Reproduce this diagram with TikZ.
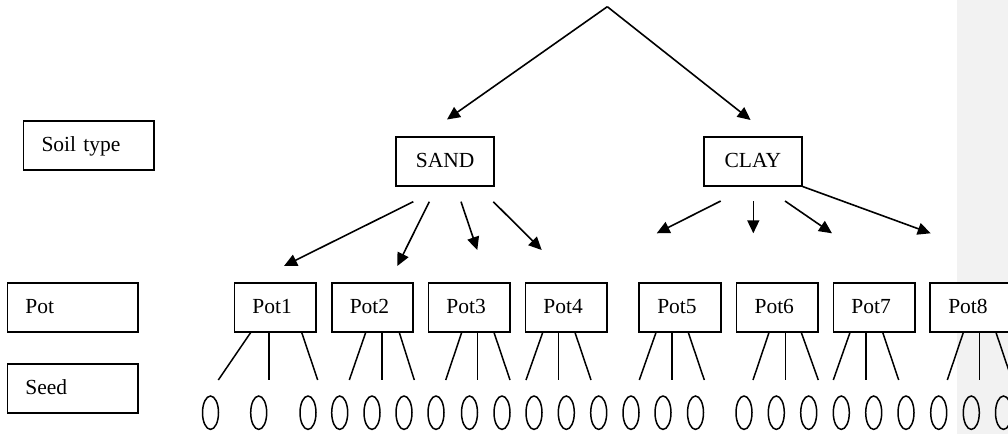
\documentclass[tikz,border=0pt]{standalone}
\usepackage{fontspec}
\setmainfont{Liberation Serif}
\usetikzlibrary{arrows.meta}
\definecolor{bgside}{HTML}{F2F2F2}
\begin{document}
\begin{tikzpicture}[x=1pt,y=-1pt,
  box/.style={draw, line width=1.6pt, fill=white, inner ysep=0pt,
    minimum height=49pt, font=\fontsize{21.5}{25}\selectfont,
    text height=14pt, text depth=2pt},
  lbox/.style={box, inner xsep=18pt, align=left, text width=#1},
  cbox/.style={box, inner xsep=0pt, minimum width=#1},
  arr/.style={line width=1.6pt, -{Triangle[length=13pt,width=12pt]}},
  ln/.style={line width=1.5pt},
  seed/.style={line width=1.5pt}]
\useasboundingbox (0,0) rectangle (1008,434);
\clip (0,0) rectangle (1008,434);
\fill[bgside] (957,0) rectangle (1008,434);

% legend boxes
\node[lbox=94.4pt] (soil) at (88.7,145.3) {Soil type};
\node[lbox=94.4pt] (potlab) at (72.5,307.2) {Pot};
\node[lbox=94.4pt] (seedlab) at (72.5,388.3) {Seed};

% soil nodes
\node[cbox=98pt] (sand) at (445.2,161.2) {SAND};
\node[cbox=98pt] (clay) at (752.8,161.2) {CLAY};

% pots
\foreach \n/\x in {1/275.2,2/372.5,3/469.2,4/566.2,5/680,6/777.3,7/874.2,8/971}
  \node[lbox=45.5pt] (p\n) at (\x,307.2) {Pot\n};

% top arrows
\coordinate (apex) at (607.3,6.7);
\coordinate (tsand) at (447,119.5);
\coordinate (tclay) at (750.6,120);
\draw[arr] (apex) -- (tsand);
\draw[arr] (apex) -- (tclay);

% sand arrows
\coordinate (s1) at (413.3,201.7); \coordinate (e1) at (284,266);
\coordinate (s2) at (429.3,201.7); \coordinate (e2) at (397.3,266);
\coordinate (s3) at (461,201.7);   \coordinate (e3) at (477.3,250);
\coordinate (s4) at (493.3,201.7); \coordinate (e4) at (541.7,250);
\foreach \i in {1,2,3,4} \draw[arr] (s\i) -- (e\i);

% clay arrows
\coordinate (c1) at (720.7,201);  \coordinate (f1) at (656.7,233.3);
\coordinate (c2) at (753.3,201);  \coordinate (f2) at (753.3,233.3);
\coordinate (c3) at (785,201);    \coordinate (f3) at (832,233.3);
\coordinate (f4) at (930.7,233.3);
\foreach \i in {1,2,3} \draw[arr] (c\i) -- (f\i);
\draw[arr] (clay.south east) -- (f4);

% seed lines
\foreach \n/\a/\b/\c/\d/\e in {
  1/250.7/218.3/269/301.7/317.7,
  2/365.7/349.3/382/399.3/414.3,
  3/461.7/445.7/477.7/494/510,
  4/542.7/526/558.7/575/591,
  5/656/639.3/672/688.3/704.3,
  6/769/753/785.3/801.3/818.3,
  7/850/833.3/866/882.7/898.7,
  8/963.3/947.3/979.7/996/1012}{
  \draw[ln] (\a,0 |- p\n.south) -- (\b,380);
  \draw[ln] (\c,0 |- p\n.south) -- (\c,380);
  \draw[ln] (\d,0 |- p\n.south) -- (\e,380);
}

% seeds
\foreach \x in {210.5,258.7,308,339.7,372,404,436,469.5,502,534,566.3,598.7,
  631,663,695.5,744,776.3,808.7,841.3,873.7,906,938.7,971.3,1003.5}
  \draw[seed] (\x,412.7) ellipse [x radius=8pt, y radius=16.7pt];
\end{tikzpicture}
\end{document}
